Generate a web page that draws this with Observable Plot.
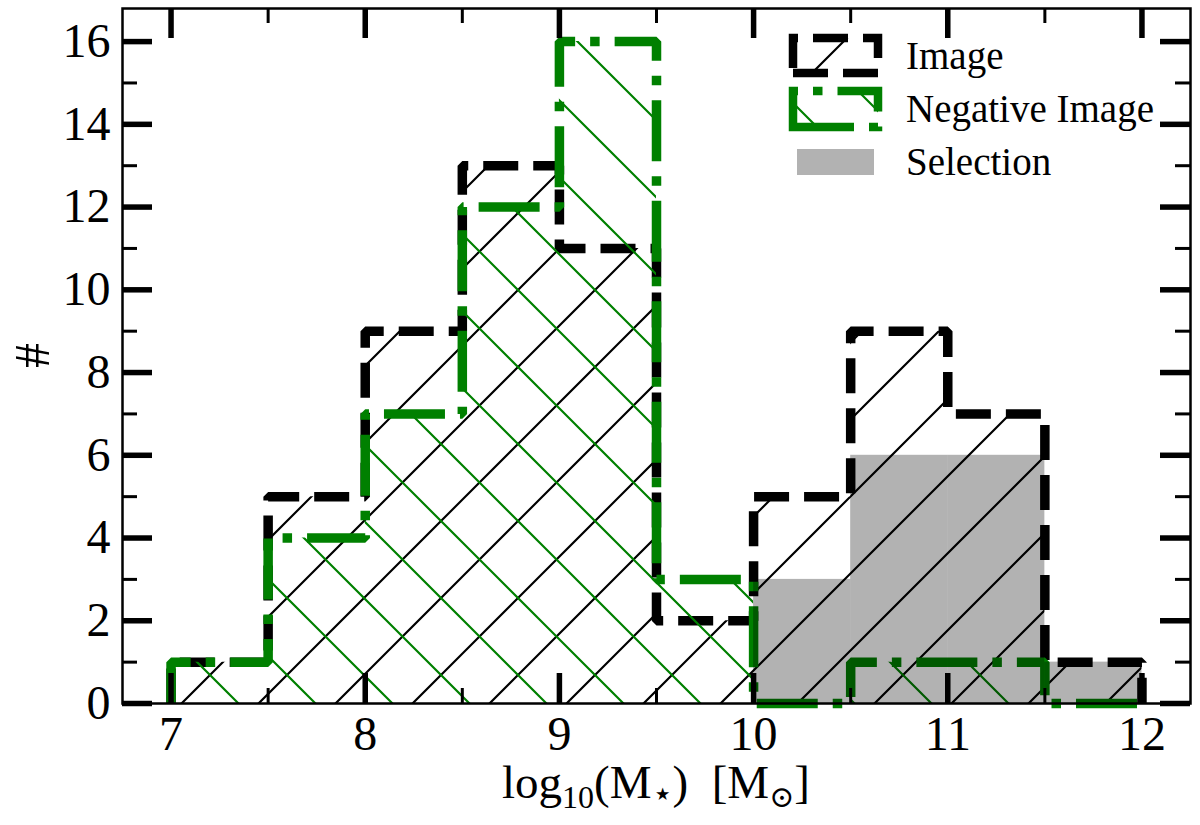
<!DOCTYPE html>
<html><head><meta charset="utf-8">
<script src="https://cdn.jsdelivr.net/npm/d3@7"></script>
<script src="https://cdn.jsdelivr.net/npm/@observablehq/plot@0.6"></script>
<style>body{margin:0;background:#fff}</style>
</head><body><div id="chart"></div>
<script>
// ---- data ----
const binStart = [7, 7.5, 8, 8.5, 9, 9.5, 10, 10.5, 11, 11.5];
const binEnd   = [7.5, 8, 8.5, 9, 9.5, 10, 10.5, 11, 11.5, 12];
const imageCounts     = [1, 5, 9, 13, 11, 2, 5, 9, 7, 1];
const negativeCounts  = [1, 4, 7, 12, 16, 3, 0, 1, 1, 0];
const selectionCounts = [0, 0, 0, 0, 0, 0, 3, 6, 6, 1];
const xMajorTicks = [7, 8, 9, 10, 11, 12];
const xMinorTicks = [7.5, 8.5, 9.5, 10.5, 11.5];
const yMajorTicks = [0, 2, 4, 6, 8, 10, 12, 14, 16];
const yMinorTicks = [1, 3, 5, 7, 9, 11, 13, 15];
const seriesNames = ["Image", "Negative Image", "Selection"];

function stepOutline(counts) {
  const pts = [{x: binStart[0], y: 0}];
  counts.forEach((c, i) => { pts.push({x: binStart[i], y: c}); pts.push({x: binEnd[i], y: c}); });
  pts.push({x: binEnd[binEnd.length - 1], y: 0});
  return pts;
}
const imageStep = stepOutline(imageCounts);
const negativeStep = stepOutline(negativeCounts);
const selectionBins = binStart.map((s, i) => ({x1: s, x2: binEnd[i], y: selectionCounts[i]})).filter(d => d.y > 0);

// ---- layout ----
const W = 1200, H = 825, mL = 122, mR = 10, mT = 8, mB = 122;
const fw = W - mL - mR, fh = H - mT - mB;
const majorLen = 30, minorLen = 15;
const lw = 9.5;

const plot = Plot.plot({
  width: W, height: H,
  marginLeft: mL, marginRight: mR, marginTop: mT, marginBottom: mB,
  style: {fontFamily: "'Liberation Serif', 'DejaVu Serif', serif", color: "black", background: "white", overflow: "visible"},
  x: {domain: [6.75, 12.25]},
  y: {domain: [0, 16.8]},
  marks: [
    Plot.areaY(imageStep, {x: "x", y1: 0, y2: "y", fill: "url(#hatchImage)"}),
    Plot.line(imageStep, {x: "x", y: "y", stroke: "black", strokeWidth: lw, strokeDasharray: "35,15", strokeLinecap: "butt", strokeLinejoin: "miter"}),
    Plot.areaY(negativeStep, {x: "x", y1: 0, y2: "y", fill: "url(#hatchNeg)"}),
    Plot.line(negativeStep, {x: "x", y: "y", stroke: "green", strokeWidth: lw, strokeDasharray: "61,15,9.5,15", strokeLinecap: "butt", strokeLinejoin: "miter"}),
    Plot.rectY(selectionBins, {x1: "x1", x2: "x2", y1: 0, y2: "y", fill: "black", fillOpacity: 0.3, inset: 0}),
    // inward ticks
    Plot.tickX(xMajorTicks, {x: d => d, insetTop: fh - majorLen, stroke: "black", strokeWidth: 5.5}),
    Plot.tickX(xMajorTicks, {x: d => d, insetBottom: fh - majorLen, stroke: "black", strokeWidth: 5.5}),
    Plot.tickX(xMinorTicks, {x: d => d, insetTop: fh - minorLen, stroke: "black", strokeWidth: 3}),
    Plot.tickX(xMinorTicks, {x: d => d, insetBottom: fh - minorLen, stroke: "black", strokeWidth: 3}),
    Plot.tickY(yMajorTicks, {y: d => d, insetRight: fw - majorLen, stroke: "black", strokeWidth: 5.5}),
    Plot.tickY(yMajorTicks, {y: d => d, insetLeft: fw - majorLen, stroke: "black", strokeWidth: 5.5}),
    Plot.tickY(yMinorTicks, {y: d => d, insetRight: fw - minorLen, stroke: "black", strokeWidth: 3}),
    Plot.tickY(yMinorTicks, {y: d => d, insetLeft: fw - minorLen, stroke: "black", strokeWidth: 3}),
    Plot.frame({stroke: "black", strokeWidth: 2.5}),
    Plot.axisX({ticks: xMajorTicks, tickSize: 0, tickPadding: 12, fontSize: 48, label: null, tickFormat: d => String(d)}),
    Plot.axisY({ticks: yMajorTicks, tickSize: 0, tickPadding: 12, fontSize: 48, label: null, tickFormat: d => String(d)})
  ]
});

const svg = d3.select(plot);
svg.insert("defs", ":first-child").html(
  '<pattern id="hatchImage" patternUnits="userSpaceOnUse" width="77" height="77">' +
  '<path d="M39,-1 L-1,39 M78,37 L37,78" stroke="black" stroke-width="2.2" fill="none"/></pattern>' +
  '<pattern id="hatchNeg" patternUnits="userSpaceOnUse" width="77" height="77">' +
  '<path d="M-1,2 L75,78 M73,-1 L78,4" stroke="green" stroke-width="2.2" fill="none"/></pattern>'
);

// axis labels
const xl = svg.append("text")
  .attr("x", mL + fw / 2).attr("y", 798)
  .attr("text-anchor", "middle").attr("font-size", 47).attr("fill", "black")
  .style("white-space", "pre");
xl.append("tspan").text("log");
xl.append("tspan").attr("font-size", 32).attr("dy", 10).text("10");
xl.append("tspan").attr("dy", -10).text("(M");
xl.append("tspan").attr("font-size", 34).attr("dy", 7).text("\u22C6");
xl.append("tspan").attr("dy", -7).text(")\u00A0\u00A0[M");
xl.append("tspan").attr("font-size", 30).attr("dy", 9).text("\u2299");
xl.append("tspan").attr("dy", -9).text("]");

svg.append("text")
  .attr("transform", `translate(49,${mT + fh / 2}) rotate(-90)`)
  .attr("text-anchor", "middle").attr("font-size", 50).attr("fill", "black")
  .text("#");

// legend
const lg = svg.append("g");
const sw = [
  {y0: 38, y1: 73, x0: 793, x1: 878, fill: "url(#hatchImage)", stroke: "black", dash: "35,15"},
  {y0: 91, y1: 127, x0: 793, x1: 878, fill: "url(#hatchNeg)", stroke: "green", dash: "61,15,9.5,15"},
  {y0: 149, y1: 175, x0: 797, x1: 874, fill: "rgba(0,0,0,0.3)", stroke: null, dash: null}
];
const baselines = [69, 122, 175];
sw.forEach((s, i) => {
  const p = `M${s.x0},${s.y1} L${s.x1},${s.y1} L${s.x1},${s.y0} L${s.x0},${s.y0} Z`;
  lg.append("path").attr("d", p).attr("fill", s.fill)
    .attr("stroke", s.stroke || "none").attr("stroke-width", s.stroke ? 8.5 : 0)
    .attr("stroke-dasharray", s.dash).attr("stroke-linejoin", "miter");
  lg.append("text").attr("x", 906).attr("y", baselines[i]).attr("text-anchor", "start")
    .attr("font-size", 39).attr("fill", "black").text(seriesNames[i]);
});

document.getElementById("chart").appendChild(plot);
</script>
</body></html>
